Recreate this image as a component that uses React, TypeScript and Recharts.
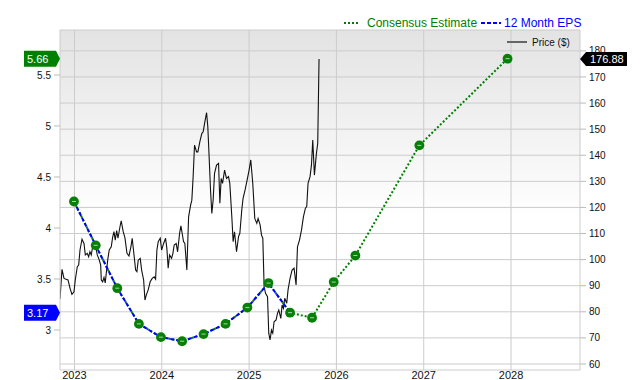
import React from 'react';
import {
  ComposedChart,
  Line,
  XAxis,
  YAxis,
  CartesianGrid,
  ReferenceDot,
  ReferenceLine,
  Customized,
} from 'recharts';

const FONT = '"Liberation Sans", Arial, Helvetica, sans-serif';

const yearTicks = [2023, 2024, 2025, 2026, 2027, 2028];
const epsTicks = [3, 3.5, 4, 4.5, 5, 5.5];
const priceTicks = [60, 70, 80, 90, 100, 110, 120, 130, 140, 150, 160, 170, 180];

const X_MIN = 2022.834;
const X_MAX = 2028.79;
const EPS_MIN = 2.608;
const EPS_MAX = 5.941;
const PRICE_MIN = 57.7;
const PRICE_MAX = 188;

const priceDates = [
  2022.834, 2022.857, 2022.88, 2022.903, 2022.926, 2022.949, 2022.971, 2022.994, 2023.009, 2023.032,
  2023.048, 2023.063, 2023.086, 2023.109, 2023.124, 2023.146, 2023.162, 2023.177, 2023.192, 2023.208,
  2023.235, 2023.261, 2023.284, 2023.3, 2023.307, 2023.323, 2023.338, 2023.352, 2023.368, 2023.383,
  2023.398, 2023.421, 2023.437, 2023.452, 2023.467, 2023.483, 2023.498, 2023.521, 2023.535, 2023.558,
  2023.578, 2023.601, 2023.624, 2023.646, 2023.661, 2023.684, 2023.7, 2023.715, 2023.73, 2023.753,
  2023.769, 2023.792, 2023.807, 2023.822, 2023.844, 2023.867, 2023.89, 2023.913, 2023.929, 2023.944,
  2023.959, 2023.982, 2023.998, 2024.021, 2024.043, 2024.058, 2024.073, 2024.089, 2024.112, 2024.127,
  2024.142, 2024.165, 2024.181, 2024.204, 2024.219, 2024.233, 2024.249, 2024.264, 2024.287, 2024.307,
  2024.33, 2024.344, 2024.359, 2024.375, 2024.398, 2024.413, 2024.436, 2024.459, 2024.474, 2024.49,
  2024.513, 2024.527, 2024.542, 2024.558, 2024.573, 2024.588, 2024.604, 2024.627, 2024.65, 2024.665,
  2024.68, 2024.696, 2024.719, 2024.741, 2024.764, 2024.779, 2024.802, 2024.817, 2024.833, 2024.856,
  2024.879, 2024.894, 2024.916, 2024.931, 2024.954, 2024.977, 2025.0, 2025.019, 2025.042, 2025.065,
  2025.088, 2025.103, 2025.126, 2025.142, 2025.157, 2025.172, 2025.188, 2025.211, 2025.225, 2025.24,
  2025.256, 2025.271, 2025.286, 2025.309, 2025.325, 2025.34, 2025.363, 2025.378, 2025.394, 2025.408,
  2025.431, 2025.446, 2025.469, 2025.492, 2025.515, 2025.538, 2025.554, 2025.577, 2025.6, 2025.622,
  2025.645, 2025.66, 2025.675, 2025.698, 2025.714, 2025.729, 2025.748, 2025.771, 2025.786, 2025.801,
];

const priceValues = [
  84.9, 96.3, 92.8, 92.5, 92.2, 89.0, 86.7, 87.7, 92.2, 97.3,
  97.9, 103.7, 107.8, 106.2, 101.8, 102.4, 101.1, 103.0, 101.8, 104.9,
  106.4, 101.8, 99.8, 97.9, 92.2, 91.5, 93.2, 91.1, 96.0, 100.5,
  103.7, 104.9, 108.5, 110.7, 107.5, 111.1, 108.2, 112.6, 114.9, 110.7,
  108.3, 102.4, 101.4, 104.9, 108.2, 101.1, 96.0, 95.4, 99.8, 100.5,
  96.0, 92.2, 84.5, 86.4, 88.4, 91.5, 92.8, 93.4, 92.5, 103.7,
  106.9, 108.2, 103.7, 106.2, 108.2, 104.3, 96.7, 101.8, 100.5, 102.4,
  105.6, 106.2, 103.0, 110.1, 112.9, 110.1, 106.9, 106.2, 96.0, 116.4,
  120.9, 122.8, 131.8, 143.9, 141.3, 141.3, 145.2, 148.4, 149.0, 152.2,
  156.3, 150.9, 139.4, 126.7, 117.7, 122.8, 133.1, 136.2, 136.9, 121.6,
  131.1, 129.2, 134.3, 131.1, 131.8, 129.2, 116.4, 106.9, 110.7, 103.0,
  108.8, 110.1, 119.0, 123.5, 126.7, 130.5, 134.3, 138.2, 129.2, 115.8,
  113.9, 115.8, 113.3, 109.4, 108.2, 89.6, 87.1, 85.8, 71.8, 69.2,
  73.0, 71.8, 76.2, 76.9, 79.4, 80.7, 77.5, 82.6, 81.3, 85.2,
  83.3, 88.4, 92.8, 96.0, 96.7, 90.3, 104.9, 107.5, 111.3, 116.4,
  119.7, 120.3, 129.2, 131.8, 136.2, 145.8, 132.4, 140.7, 144.6, 176.88,
];

const epsDates = [
  2022.994, 2023.243, 2023.49, 2023.738, 2023.99, 2024.233, 2024.478, 2024.73, 2024.98, 2025.222,
  2025.469,
];
const epsValues = [4.26, 3.83, 3.41, 3.06, 2.93, 2.89, 2.96, 3.06, 3.22, 3.46, 3.17];

const estimateDates = [
  2022.994, 2023.243, 2023.49, 2023.738, 2023.99, 2024.233, 2024.478, 2024.73, 2024.98, 2025.222,
  2025.469, 2025.721, 2025.969, 2026.217, 2026.95, 2027.96,
];
const estimateValues = [
  4.26, 3.83, 3.41, 3.06, 2.93, 2.89, 2.96, 3.06, 3.22, 3.46, 3.17, 3.12, 3.47, 3.73, 4.81, 5.66,
];

const priceData = priceDates.map((t, i) => ({ t, price: priceValues[i] }));
const epsData = epsDates.map((t, i) => ({ t, eps: epsValues[i] }));
const estimateData = estimateDates.map((t, i) => ({ t, est: estimateValues[i] }));

const lastPrice = priceValues[priceValues.length - 1];
const lastEps = epsValues[epsValues.length - 1];
const lastEstimate = estimateValues[estimateValues.length - 1];

const GREEN = '#008000';
const BLUE = '#0000ff';

const EpsDot = (props: any) => {
  const { cx, cy } = props;
  if (cx == null || cy == null) return null;
  return (
    <g>
      <circle cx={cx} cy={cy} r={4.9} fill="#078007" />
      <line x1={cx - 2} y1={cy} x2={cx + 2} y2={cy} stroke="#a6d8a6" strokeWidth={1} />
    </g>
  );
};

const LeftBadge = (label: string, color: string) => (props: any) => {
  const { cx, cy } = props;
  if (cx == null || cy == null) return null;
  const x0 = cx - 36;
  const h = 8;
  return (
    <g>
      <polygon
        points={`${x0},${cy - h} ${cx - 4},${cy - h} ${cx},${cy} ${cx - 4},${cy + h} ${x0},${cy + h}`}
        fill={color}
      />
      <text x={x0 + 3} y={cy + 4} fill="#fff" fontSize={11} fontFamily={FONT}>
        {label}
      </text>
    </g>
  );
};

const RightBadge = (label: string) => (props: any) => {
  const { cx, cy } = props;
  if (cx == null || cy == null) return null;
  const h = 7;
  return (
    <g>
      <polygon
        points={`${cx},${cy} ${cx + 6},${cy - h} ${cx + 47},${cy - h} ${cx + 47},${cy + h} ${cx + 6},${cy + h}`}
        fill="#000"
      />
      <text x={cx + 10} y={cy + 4} fill="#fff" fontSize={11} fontFamily={FONT}>
        {label}
      </text>
    </g>
  );
};

const Legends = () => (
  <g fontFamily={FONT}>
    <line x1={344} y1={23} x2={358} y2={23} stroke={GREEN} strokeWidth={2} strokeDasharray="2 2" />
    <text x={367} y={27} fill={GREEN} fontSize={12}>
      Consensus Estimate
    </text>
    <line x1={481} y1={23} x2={501} y2={23} stroke={BLUE} strokeWidth={2} strokeDasharray="4 2" />
    <text x={504} y={27} fill={BLUE} fontSize={12}>
      12 Month EPS
    </text>
    <line x1={507} y1={42} x2={527} y2={42} stroke="#666" strokeWidth={2} />
    <text x={532} y={45.5} fill="#111" fontSize={10}>
      Price ($)
    </text>
  </g>
);

export default function App() {
  return (
    <div style={{ position: 'absolute', left: 0, top: 0, width: 640, height: 380, background: '#fff' }}>
      <ComposedChart width={640} height={380} margin={{ top: 30, right: 0, bottom: 0, left: 0 }}>
        <defs>
          <linearGradient id="bgGrad" x1="0" y1="0" x2="0" y2="1">
            <stop offset="0%" stopColor="#e3e3e3" />
            <stop offset="55%" stopColor="#ffffff" />
            <stop offset="100%" stopColor="#ffffff" />
          </linearGradient>
        </defs>
        <CartesianGrid
          yAxisId="price"
          stroke="#cccccc"
          fill="url(#bgGrad)"
          fillOpacity={1}
          horizontalValues={priceTicks}
          verticalValues={yearTicks}
        />
        <XAxis
          dataKey="t"
          type="number"
          domain={[X_MIN, X_MAX]}
          ticks={yearTicks}
          allowDataOverflow
          height={10}
          tickLine={false}
          tickSize={0}
          tickMargin={1}
          axisLine={{ stroke: '#cccccc' }}
          tick={{ fontSize: 11, fill: '#111', fontFamily: FONT }}
        />
        <YAxis
          yAxisId="eps"
          orientation="left"
          type="number"
          domain={[EPS_MIN, EPS_MAX]}
          ticks={epsTicks}
          allowDataOverflow
          width={60}
          tickSize={6}
          tickMargin={3}
          tickLine={{ stroke: '#bbbbbb' }}
          axisLine={{ stroke: '#cccccc' }}
          tick={{ fontSize: 10, fill: '#111', fontFamily: FONT }}
        />
        <YAxis
          yAxisId="price"
          orientation="right"
          type="number"
          domain={[PRICE_MIN, PRICE_MAX]}
          ticks={priceTicks}
          allowDataOverflow
          width={60}
          tickSize={6}
          tickMargin={3}
          tickLine={{ stroke: '#bbbbbb' }}
          axisLine={{ stroke: '#cccccc' }}
          tick={{ fontSize: 10, fill: '#111', fontFamily: FONT }}
        />
        <ReferenceLine yAxisId="price" y={PRICE_MAX} stroke="#cccccc" />
        <Line
          yAxisId="price"
          data={priceData}
          dataKey="price"
          type="linear"
          stroke="#111"
          strokeWidth={1.1}
          dot={false}
          isAnimationActive={false}
        />
        <Line
          yAxisId="eps"
          data={estimateData}
          dataKey="est"
          type="linear"
          stroke={GREEN}
          strokeWidth={2}
          strokeDasharray="2 2"
          dot={false}
          isAnimationActive={false}
        />
        <Line
          yAxisId="eps"
          data={epsData}
          dataKey="eps"
          type="linear"
          stroke={BLUE}
          strokeWidth={2}
          strokeDasharray="4 2"
          dot={false}
          isAnimationActive={false}
        />
        <Line
          yAxisId="eps"
          data={estimateData}
          dataKey="est"
          type="linear"
          stroke="none"
          strokeWidth={0}
          dot={<EpsDot />}
          activeDot={false}
          isAnimationActive={false}
        />
        <ReferenceDot yAxisId="eps" x={X_MIN} y={lastEstimate} r={0} shape={LeftBadge(lastEstimate.toFixed(2), GREEN)} />
        <ReferenceDot yAxisId="eps" x={X_MIN} y={lastEps} r={0} shape={LeftBadge(lastEps.toFixed(2), BLUE)} />
        <ReferenceDot yAxisId="price" x={X_MAX} y={lastPrice} r={0} shape={RightBadge(lastPrice.toFixed(2))} />
        <Customized component={Legends} />
      </ComposedChart>
    </div>
  );
}
